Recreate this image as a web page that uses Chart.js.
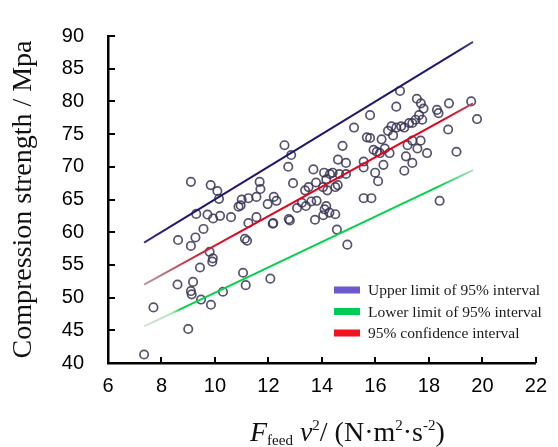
<!DOCTYPE html>
<html>
<head>
<meta charset="utf-8">
<script src="https://cdn.jsdelivr.net/npm/chart.js@4/dist/chart.umd.min.js"></script>
<style>
  html, body { margin: 0; padding: 0; background: #fff; }
  canvas { display: block; }
</style>
</head>
<body>
<canvas id="chart" width="558" height="447"></canvas>
<script>
// ================= DATA =================
const xTicks = [6, 8, 10, 12, 14, 16, 18, 20, 22];
const yTicks = [40, 45, 50, 55, 60, 65, 70, 75, 80, 85, 90];

// measured samples (F_feed v^2 , compression strength)
const sampleX = [7.35, 7.7, 9.0, 8.6, 9.18, 9.1, 9.13, 9.48, 9.85, 10.3, 11.05, 11.15, 12.07, 9.44, 9.9, 9.92, 9.8, 8.62, 9.1, 9.27,
  9.57, 9.3, 9.72, 9.93, 10.19, 10.6, 10.88, 10.96, 11.25, 11.12, 11.2, 11.55, 12.18, 11.97, 12.3, 12.76, 13.07, 13.4, 13.74, 13.8,
  14.05, 9.1, 9.84, 10.09, 10.15, 11.67, 11.7, 11.55, 11.25, 11.0, 12.2, 12.6, 12.74, 12.92, 12.85, 13.68, 14.08, 13.37, 13.78, 13.5,
  14.04, 14.3, 14.4, 14.65, 14.9, 14.6, 14.9, 14.77, 15.2, 15.56, 14.2, 14.5, 14.16, 13.25, 13.6, 14.16, 14.28, 14.5, 14.1, 12.8,
  15.56, 15.85, 15.68, 12.16, 14.56, 14.95, 16.92, 17.55, 17.7, 17.8, 17.63, 17.75, 18.3, 18.36, 18.75, 19.58, 19.8, 16.78, 15.8, 16.6,
  16.78, 16.96, 17.08, 17.26, 17.38, 17.5, 16.47, 15.8, 16.23, 16.66, 18.72, 15.93, 16.05, 16.17, 16.35, 16.53, 17.38, 17.69, 17.57, 17.2,
  17.93, 17.14, 17.38, 19.03, 16.3, 15.99, 17.08, 16.1, 14.59, 18.4, 15.56];
const sampleY = [41.3, 48.5, 45.2, 52.0, 52.4, 51.0, 50.5, 49.7, 48.9, 50.9, 53.8, 51.9, 52.9, 54.6, 55.5, 56.0, 57.0, 58.8, 57.9, 59.2,
  60.5, 62.8, 62.7, 62.1, 62.5, 62.3, 63.9, 64.1, 61.4, 59.0, 58.7, 62.3, 61.4, 64.3, 64.8, 62.0, 63.7, 64.0, 61.9, 64.8,
  62.6, 67.7, 67.2, 66.3, 65.1, 67.7, 66.6, 65.4, 65.2, 65.0, 65.4, 73.3, 70.0, 67.5, 71.8, 69.6, 69.1, 66.4, 67.6, 66.9,
  66.9, 68.9, 69.1, 68.9, 68.9, 71.1, 70.6, 73.2, 76.0, 70.8, 66.4, 66.9, 68.1, 64.5, 64.7, 64.0, 63.0, 62.75, 63.5, 61.8,
  65.2, 65.2, 74.5, 61.3, 60.4, 58.1, 81.6, 80.4, 79.7, 78.9, 77.9, 77.2, 78.7, 78.2, 79.7, 80.0, 77.3, 79.2, 77.9, 76.2,
  76.0, 76.2, 76.0, 76.7, 76.7, 77.2, 75.5, 74.4, 74.2, 74.8, 75.7, 72.6, 72.3, 72.1, 72.8, 72.1, 74.0, 74.0, 72.8, 73.3,
  72.1, 71.6, 70.6, 72.3, 70.3, 69.1, 69.4, 67.8, 67.2, 64.8, 69.9];

// fitted lines, two end points each
const lineX = [7.35, 19.65];
const upperY = [58.4, 89.1];
const lowerY = [45.6, 69.5];
const fitY = [52.0, 79.7];

const legendLabels = ["Upper limit of 95% interval", "Lower limit of 95% interval", "95% confidence interval"];
const legendColors = ["#6a5acd", "#00cc55", "#f0141e"];

const toPoints = (xs, ys) => xs.map((x, i) => ({ x: x, y: ys[i] }));

// ================= STYLES =================
// horizontal gradient along a line, stops given in data units
function lineGradient(stops) {
  return function (ctx) {
    const chart = ctx.chart;
    if (!chart.chartArea) return stops[stops.length - 1][1];
    const xs = chart.scales.x;
    const x0 = xs.getPixelForValue(lineX[0]);
    const x1 = xs.getPixelForValue(lineX[1]);
    const g = chart.ctx.createLinearGradient(x0, 0, x1, 0);
    stops.forEach(s => {
      const p = (xs.getPixelForValue(s[0]) - x0) / (x1 - x0);
      g.addColorStop(Math.min(1, Math.max(0, p)), s[1]);
    });
    return g;
  };
}

// ================= PLUGINS =================
const innerTicks = {
  id: "innerTicks",
  afterDraw(chart) {
    const { ctx, chartArea, scales } = chart;
    ctx.save();
    ctx.strokeStyle = "#000";
    ctx.lineWidth = 2;
    xTicks.forEach(v => {
      const px = Math.round(scales.x.getPixelForValue(v));
      ctx.beginPath();
      ctx.moveTo(px, chartArea.bottom);
      ctx.lineTo(px, chartArea.bottom - 6);
      ctx.stroke();
    });
    yTicks.forEach(v => {
      const py = Math.round(scales.y.getPixelForValue(v));
      ctx.beginPath();
      ctx.moveTo(chartArea.left, py);
      ctx.lineTo(chartArea.left + 7, py);
      ctx.stroke();
    });
    ctx.restore();
  }
};

const boxLegend = {
  id: "boxLegend",
  afterDraw(chart) {
    const ctx = chart.ctx;
    const left = 334, top = 290, gap = 21.5;
    ctx.save();
    ctx.font = "15.5px 'Liberation Serif', 'Times New Roman', serif";
    ctx.textBaseline = "middle";
    legendLabels.forEach((label, i) => {
      const cy = top + i * gap;
      ctx.fillStyle = legendColors[i];
      ctx.fillRect(left, cy - 3.5, 26, 7);
      ctx.fillStyle = "#1a1a1a";
      ctx.fillText(label, left + 34, cy + 1);
    });
    ctx.restore();
  }
};

const xTitle = {
  id: "xTitle",
  afterDraw(chart) {
    const ctx = chart.ctx;
    const serif = "'Liberation Serif', 'Times New Roman', serif";
    const big = 28, small = 15;
    const parts = [
      { t: "F", f: "italic " + big + "px " + serif, dy: 0 },
      { t: "feed", f: small + "px " + serif, dy: 4 },
      { t: " v", f: "italic " + big + "px " + serif, dy: 0 },
      { t: "2", f: small + "px " + serif, dy: -11 },
      { t: "/ (N\u00b7m", f: big + "px " + serif, dy: 0 },
      { t: "2", f: small + "px " + serif, dy: -11 },
      { t: "\u00b7s", f: big + "px " + serif, dy: 0 },
      { t: "-2", f: small + "px " + serif, dy: -11 },
      { t: ")", f: big + "px " + serif, dy: 0 }
    ];
    ctx.save();
    ctx.fillStyle = "#111";
    ctx.textBaseline = "alphabetic";
    let x = 250;
    const base = 441;
    parts.forEach(p => {
      ctx.font = p.f;
      ctx.fillText(p.t, x, base + p.dy);
      x += ctx.measureText(p.t).width;
    });
    ctx.restore();
  }
};

// ================= CHART =================
new Chart(document.getElementById("chart"), {
  type: "scatter",
  data: {
    datasets: [
      {
        label: legendLabels[0],
        data: toPoints(lineX, upperY),
        showLine: true,
        borderColor: lineGradient([[7.35, "#3a3080"], [8.5, "#1e1870"], [19.0, "#1e1870"], [19.65, "#4a4490"]]),
        borderWidth: 2,
        pointRadius: 0
      },
      {
        label: legendLabels[1],
        data: toPoints(lineX, lowerY),
        showLine: true,
        borderColor: lineGradient([[7.35, "rgba(215,215,215,0.9)"], [8.4, "rgba(170,235,180,1)"], [8.7, "#00d24a"], [18.3, "#00d24a"], [19.65, "rgba(170,225,190,1)"]]),
        borderWidth: 2,
        pointRadius: 0
      },
      {
        label: legendLabels[2],
        data: toPoints(lineX, fitY),
        showLine: true,
        borderColor: lineGradient([[7.35, "#b89aa4"], [9.3, "#c8283c"], [11.0, "#e8001a"], [18.5, "#e8001a"], [19.65, "#b04a5a"]]),
        borderWidth: 2,
        pointRadius: 0
      },
      {
        label: "samples",
        data: toPoints(sampleX, sampleY),
        pointStyle: "circle",
        pointRadius: 4.2,
        borderWidth: 1.7,
        borderColor: "rgba(55,52,85,0.85)",
        backgroundColor: "rgba(0,0,0,0)"
      }
    ]
  },
  options: {
    responsive: false,
    devicePixelRatio: 1,
    animation: false,
    layout: { padding: { left: 0, top: 22, right: 12, bottom: 0 } },
    plugins: {
      legend: { display: false },
      tooltip: { enabled: false }
    },
    scales: {
      x: {
        type: "linear",
        min: 6,
        max: 22,
        afterBuildTicks: s => { s.ticks = xTicks.map(v => ({ value: v })); },
        afterFit: s => { s.height = 84; },
        grid: { display: false, drawTicks: false },
        border: { display: true, color: "#000", width: 2.5 },
        ticks: {
          padding: 11,
          color: "#000",
          font: { family: "'Liberation Sans', Arial, sans-serif", size: 20 }
        }
      },
      y: {
        type: "linear",
        min: 40,
        max: 90,
        afterBuildTicks: s => { s.ticks = yTicks.map(v => ({ value: v })); },
        afterFit: s => { s.width = 108; },
        grid: { display: false, drawTicks: false },
        border: { display: true, color: "#000", width: 2.5 },
        ticks: {
          padding: 24,
          color: "#000",
          font: { family: "'Liberation Sans', Arial, sans-serif", size: 20 }
        },
        title: {
          display: true,
          text: "Compression strength / Mpa",
          color: "#111",
          padding: { top: 7, bottom: 0 },
          font: { family: "'Liberation Serif', 'Times New Roman', serif", size: 28 }
        }
      }
    }
  },
  plugins: [innerTicks, boxLegend, xTitle]
});
</script>
</body>
</html>
